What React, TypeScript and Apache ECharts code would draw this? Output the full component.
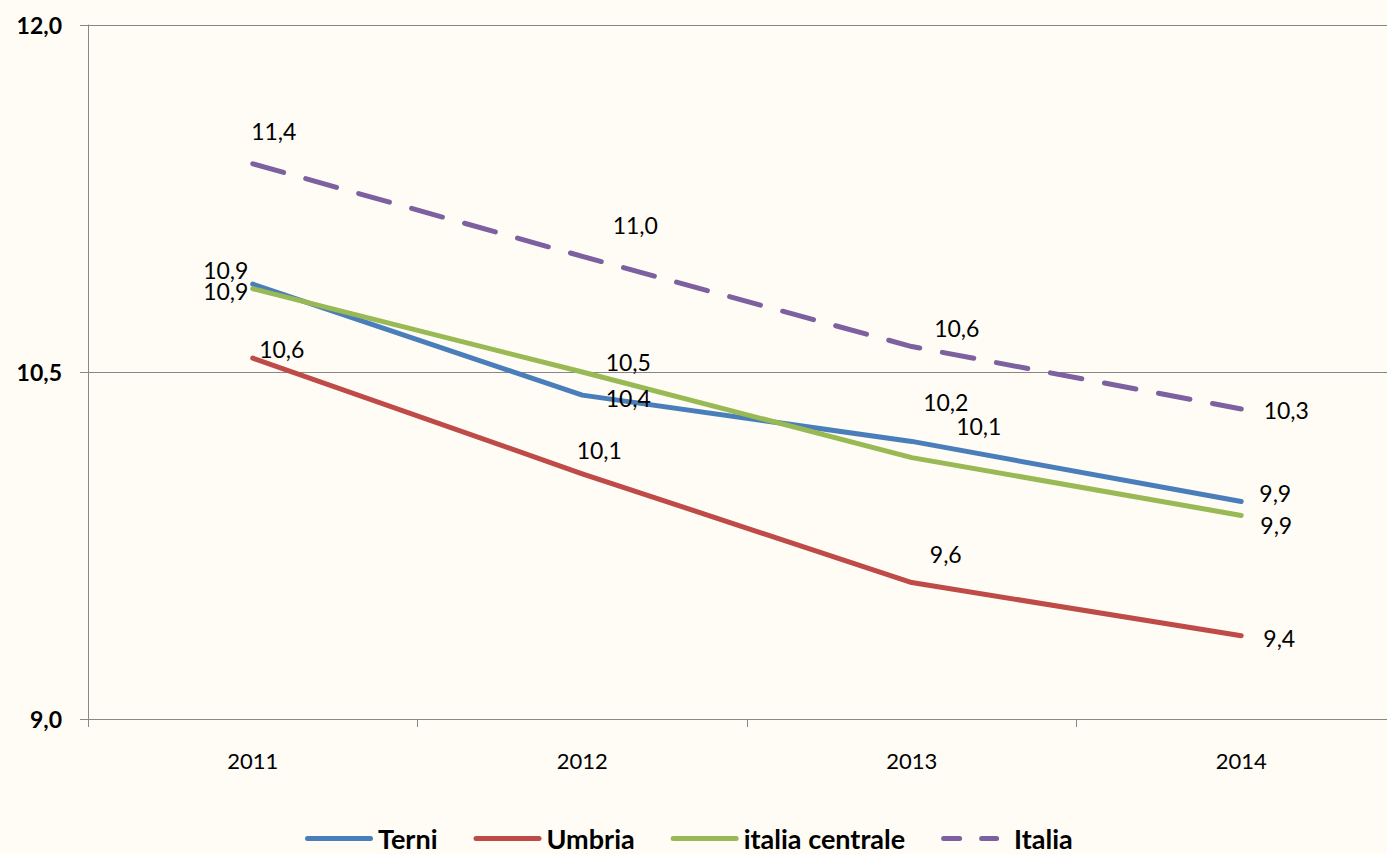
import React, { useEffect, useRef } from "react";
import * as echarts from "echarts";

const years = ["2011", "2012", "2013", "2014"];
const terni = [10.88, 10.4, 10.2, 9.94];
const umbria = [10.56, 10.06, 9.59, 9.36];
const italiaCentrale = [10.86, 10.5, 10.13, 9.88];
const italia = [11.4, 11.0, 10.61, 10.34];
const seriesNames = ["Terni", "Umbria", "italia centrale", "Italia"];
const yMin = 9;
const yMax = 12;
const yStep = 1.5;

// label placement (pixel offsets from each point), kept apart from data
const labelOffsets: number[][][] = [
  [[-27, -14], [46, 3], [34, -39], [34, -9]],
  [[29, -9], [17, -24], [34, -29], [38, 2]],
  [[-27, 2], [46, -10], [67, -32], [35, 10]],
  [[21, -33], [53, -31], [45, -19], [45, 1]],
];
const colors = ["#4A7EBB", "#BE4B48", "#98B954", "#7D60A0"];

const FONT = "Lato, 'Open Sans', sans-serif";
const fmt = (v: number) => v.toFixed(1).replace(".", ",");

const solidIcon =
  "path://M2.5,0H65.5A2.5,2.5,0,0,1,65.5,5H2.5A2.5,2.5,0,0,1,2.5,0Z";
const dashIcon =
  "path://M2.5,0H18.5A2.5,2.5,0,0,1,18.5,5H2.5A2.5,2.5,0,0,1,2.5,0Z" +
  "M40.5,0H55.5A2.5,2.5,0,0,1,55.5,5H40.5A2.5,2.5,0,0,1,40.5,0Z" +
  "M67.95,2.49H68V2.5H67.95Z";

export default function App() {
  const ref = useRef<HTMLDivElement>(null);
  useEffect(() => {
    if (!ref.current) return;
    const chart = echarts.init(ref.current, undefined, { renderer: "svg" });
    const values = [terni, umbria, italiaCentrale, italia];
    chart.setOption({
      animation: false,
      backgroundColor: "#FEFCF5",
      grid: { left: 88, right: 34, top: 25, bottom: 135, containLabel: false },
      legend: {
        left: 300,
        top: 825,
        padding: [0, 5, 0, 5],
        itemWidth: 68,
        itemHeight: 5,
        itemGap: 36,
        textStyle: {
          fontFamily: FONT,
          fontWeight: "bold",
          fontSize: 27,
          lineHeight: 26,
          color: "#000",
        },
        data: seriesNames.map((n, i) => ({
          name: n,
          icon: i === 3 ? dashIcon : solidIcon,
        })),
      },
      xAxis: {
        type: "category",
        data: years,
        boundaryGap: true,
        axisLine: { show: true, lineStyle: { color: "#878787", width: 1 } },
        axisTick: { show: true, length: 8, lineStyle: { color: "#878787" } },
        axisLabel: {
          fontFamily: FONT,
          fontSize: 22,
          color: "#000",
          margin: 30,
        },
        splitLine: { show: false },
      },
      yAxis: {
        type: "value",
        min: yMin,
        max: yMax,
        interval: yStep,
        axisLine: { show: true, lineStyle: { color: "#878787", width: 1 } },
        axisTick: { show: true, length: 8, lineStyle: { color: "#878787" } },
        axisLabel: {
          fontFamily: FONT,
          fontSize: 23,
          fontWeight: "bold",
          color: "#000",
          margin: 26,
          formatter: (v: number) => fmt(v),
        },
        splitLine: { show: true, lineStyle: { color: "#878787", width: 1 } },
      },
      series: seriesNames.map((name, si) => ({
        name,
        type: "line",
        symbol: "circle",
        symbolSize: 0,
        itemStyle: { color: colors[si] },
        lineStyle: {
          color: colors[si],
          width: 5,
          cap: "round",
          join: "round",
          type: si === 3 ? [32, 23] : "solid",
        },
        label: {
          show: true,
          position: "inside",
          align: "center",
          verticalAlign: "middle",
          fontFamily: FONT,
          fontSize: 23,
          lineHeight: 20,
          color: "#000",
          formatter: (p: any) => fmt(p.value),
        },
        emphasis: { disabled: true },
        data: values[si].map((v, i) => ({
          value: v,
          label: { offset: labelOffsets[si][i] },
        })),
      })),
    });
    return () => chart.dispose();
  }, []);
  return (
    <div
      style={{
        position: "fixed",
        left: 0,
        top: 0,
        width: 1387,
        height: 854,
        overflow: "hidden",
        background: "#FEFCF5",
      }}
    >
      <div ref={ref} style={{ width: 1440, height: 854 }} />
    </div>
  );
}
